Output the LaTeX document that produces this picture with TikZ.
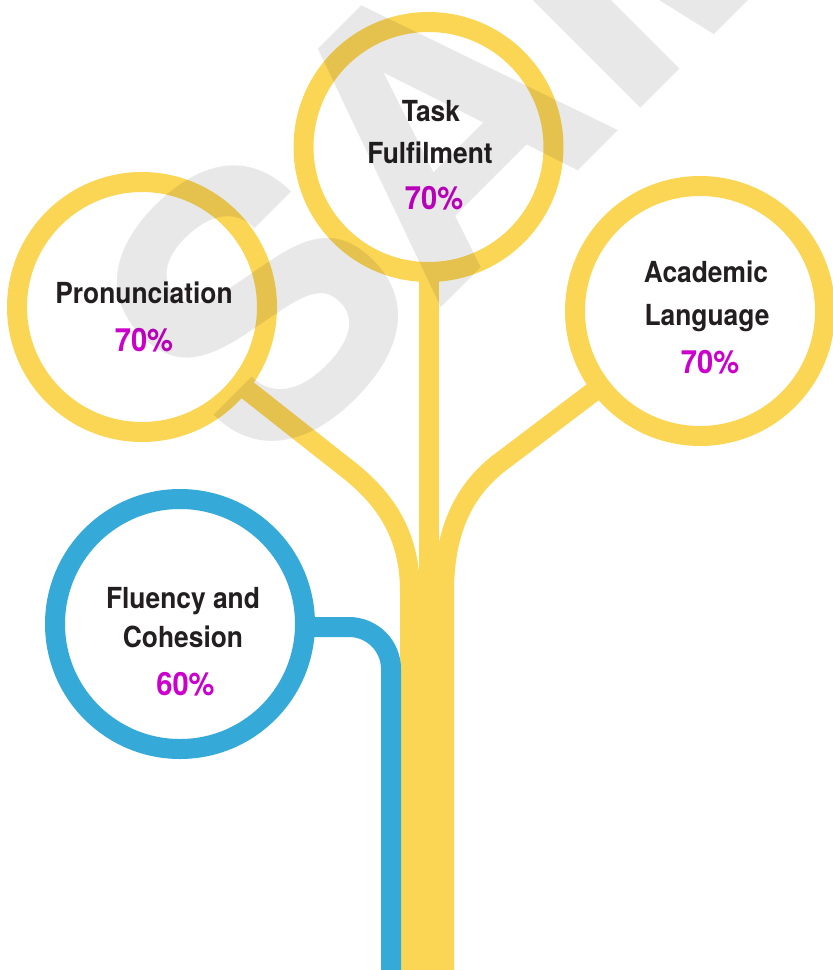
\documentclass[tikz,border=0pt]{standalone}
\usepackage{fontspec}
\newfontfamily\lblfont[FakeStretch=0.91]{TeX Gyre Heros}
\newfontfamily\wmfont{TeX Gyre Heros}
\definecolor{ringyellow}{RGB}{251,214,85}
\definecolor{ringblue}{RGB}{53,169,216}
\definecolor{pctcol}{RGB}{204,0,204}
\definecolor{ink}{RGB}{35,31,32}
\begin{document}
\begin{tikzpicture}[x=1pt,y=-1pt,
  ring/.style={circle,draw=#1,line width=20pt,fill=white,minimum size=250pt,inner sep=0pt},
  branch/.style={draw=ringyellow,line width=20pt},
  blueline/.style={draw=ringblue,line width=20pt,rounded corners=42pt},
  lbltext/.style={anchor=base,text=ink,inner sep=0pt,font=\lblfont\bfseries\fontsize{29}{29}\selectfont},
  pcttext/.style={anchor=base,text=pctcol,inner sep=0pt,font=\lblfont\bfseries\fontsize{32}{32}\selectfont},
  wmark/.style={rotate=45,anchor=base west,opacity=0.09,inner sep=0pt,font=\wmfont\bfseries\fontsize{370}{370}\selectfont}]
\useasboundingbox (0,0) rectangle (833,970);
\coordinate (tc) at (428.5,147);
\coordinate (pc) at (142,307);
\coordinate (ac) at (700,311);
\coordinate (fc) at (180,624);
\coordinate (fs) at (180,627);
\coordinate (bend1) at (350,471);
\coordinate (bend2) at (498,464);
\coordinate (foot1) at (410,970);
\coordinate (foot2) at (428.5,970);
\coordinate (foot3) at (444,970);
\coordinate (foot4) at (391,970);
% trunk and branches
\draw[branch] (tc) -- (foot2);
\draw[branch] (pc) -- (bend1) .. controls (390,503) and (410,540) .. (410,592) -- (foot1);
\draw[branch] (ac) -- (bend2) .. controls (460,494) and (444,537) .. (444,592) -- (foot3);
\draw[blueline] (fs) -- (391,627) -- (foot4);
% rings
\node[ring=ringyellow] (task) at (tc) {};
\node[ring=ringyellow] (pron) at (pc) {};
\node[ring=ringyellow] (acad) at (ac) {};
\node[ring=ringblue] (flu) at (fc) {};
% labels
\node[lbltext] (t1) at (431,121) {Task};
\node[lbltext] (t2) at (430,163) {Fulfilment};
\node[pcttext] (t3) at (434,209) {70\%};
\node[lbltext] (p1) at (144,303) {Pronunciation};
\node[pcttext] (p2) at (144,351) {70\%};
\node[lbltext] (a1) at (706,282) {Academic};
\node[lbltext] (a2) at (707,325) {Language};
\node[pcttext] (a3) at (710,373) {70\%};
\node[lbltext] (f1) at (183,608) {Fluency and};
\node[lbltext] (f2) at (183,647) {Cohesion};
\node[pcttext] (f3) at (185.5,695) {60\%};
% watermark
\begin{scope}
\clip (0,0) rectangle (833,970);
\node[wmark] (wm) at (265,484) {SAMPLE};
\end{scope}
\end{tikzpicture}
\end{document}
